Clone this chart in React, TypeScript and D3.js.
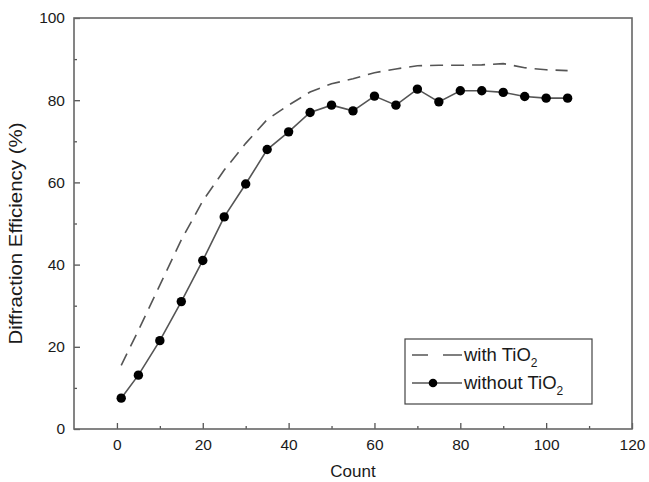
import React, { useEffect, useRef } from 'react';
import * as d3 from 'd3';

// counts shared by both series
const counts = [1, 5, 10, 15, 20, 25, 30, 35, 40, 45, 50, 55, 60, 65, 70, 75, 80, 85, 90, 95, 100, 105];
// with TiO2 (dashed line)
const withTiO2 = [15.5, 24, 35, 46, 55.5, 63, 69.5, 75.3, 78.8, 82, 84, 85.2, 86.7, 87.6, 88.4, 88.5, 88.5, 88.6, 88.9, 87.9, 87.4, 87.2];
// without TiO2 (solid line + dots)
const withoutTiO2 = [7.5, 13.1, 21.5, 31, 41, 51.6, 59.6, 68, 72.3, 77, 78.8, 77.4, 81, 78.8, 82.7, 79.6, 82.3, 82.3, 81.9, 80.9, 80.5, 80.5];

const xMajor = [0, 20, 40, 60, 80, 100, 120];
const xMinor = [10, 30, 50, 70, 90, 110];
const yMajor = [0, 20, 40, 60, 80, 100];
const yMinor = [10, 30, 50, 70, 90];

const App = () => {
  const svgRef = useRef<SVGSVGElement>(null);

  useEffect(() => {
    const width = 649;
    const height = 482;
    const left = 74, right = 632, top = 18, bottom = 429;
    const font = "'Liberation Sans', Arial, sans-serif";
    const ink = '#1a1a1a';

    const svg = d3.select(svgRef.current);
    svg.selectAll('*').remove();
    svg.attr('width', width).attr('height', height).style('font-family', font);

    const x = d3.scaleLinear().domain([-10, 120]).range([left, right]);
    const y = d3.scaleLinear().domain([0, 100]).range([bottom, top]);

    // --- axes (ticks pointing inward) ---
    const styleAxis = (g: any) => {
      g.select('.domain').remove();
      g.selectAll('line').attr('stroke', '#555').attr('stroke-width', 1.3);
      g.selectAll('text').attr('fill', ink).style('font-size', '15.5px');
    };

    svg.append('g')
      .attr('transform', `translate(0,${bottom})`)
      .call(d3.axisBottom(x).tickValues(xMajor).tickSize(-6).tickSizeOuter(0).tickPadding(10))
      .call(styleAxis);
    svg.append('g')
      .attr('transform', `translate(0,${bottom})`)
      .call(d3.axisBottom(x).tickValues(xMinor).tickSize(-3).tickSizeOuter(0).tickFormat(() => ''))
      .call(styleAxis);

    svg.append('g')
      .attr('transform', `translate(${left},0)`)
      .call(d3.axisLeft(y).tickValues(yMajor).tickSize(-6).tickSizeOuter(0).tickPadding(9))
      .call(styleAxis);
    svg.append('g')
      .attr('transform', `translate(${left},0)`)
      .call(d3.axisLeft(y).tickValues(yMinor).tickSize(-3).tickSizeOuter(0).tickFormat(() => ''))
      .call(styleAxis);

    // frame
    svg.append('rect')
      .attr('x', left).attr('y', top)
      .attr('width', right - left).attr('height', bottom - top)
      .attr('fill', 'none').attr('stroke', '#666').attr('stroke-width', 1.6);

    // --- series ---
    const line = d3.line<number>()
      .x((_, i) => x(counts[i]))
      .y(d => y(d));

    svg.append('path')
      .datum(withTiO2)
      .attr('d', line)
      .attr('fill', 'none')
      .attr('stroke', '#555')
      .attr('stroke-width', 1.6)
      .attr('stroke-dasharray', '13,8');

    svg.append('path')
      .datum(withoutTiO2)
      .attr('d', line)
      .attr('fill', 'none')
      .attr('stroke', '#555')
      .attr('stroke-width', 1.6);

    svg.append('g')
      .selectAll('circle')
      .data(withoutTiO2)
      .join('circle')
      .attr('cx', (_, i) => x(counts[i]))
      .attr('cy', d => y(d))
      .attr('r', 4.7)
      .attr('fill', '#000');

    // --- axis titles ---
    svg.append('text')
      .attr('x', (left + right) / 2)
      .attr('y', 477)
      .attr('text-anchor', 'middle')
      .attr('fill', ink)
      .style('font-size', '17px')
      .text('Count');

    svg.append('text')
      .attr('transform', `translate(22,${(top + bottom) / 2 + 10}) rotate(-90)`)
      .attr('text-anchor', 'middle')
      .attr('fill', ink)
      .attr('textLength', 222)
      .attr('lengthAdjust', 'spacingAndGlyphs')
      .style('font-size', '18px')
      .text('Diffraction Efficiency (%)');

    // --- legend ---
    const lg = svg.append('g').attr('transform', 'translate(405,339)');
    lg.append('rect')
      .attr('width', 187).attr('height', 65)
      .attr('fill', '#fff').attr('stroke', '#444').attr('stroke-width', 1.2);

    const rows = [
      { label: 'with TiO', dashed: true, dy: 16 },
      { label: 'without TiO', dashed: false, dy: 44 },
    ];
    rows.forEach(r => {
      const row = lg.append('g').attr('transform', `translate(0,${r.dy})`);
      row.append('line')
        .attr('x1', 7).attr('x2', 57).attr('y1', 0).attr('y2', 0)
        .attr('stroke', '#555').attr('stroke-width', 1.5)
        .attr('stroke-dasharray', r.dashed ? '16,15,19' : null);
      if (!r.dashed) {
        row.append('circle').attr('cx', 28).attr('cy', 0).attr('r', 4.3).attr('fill', '#000');
      }
      const t = row.append('text')
        .attr('x', 59).attr('y', 6)
        .attr('fill', ink)
        .style('font-size', '18.5px');
      t.append('tspan').text(r.label);
      t.append('tspan').attr('dy', 6).style('font-size', '12px').text('2');
    });
  }, []);

  return (
    <svg ref={svgRef} style={{ position: 'absolute', left: 0, top: 0, display: 'block', background: '#fff' }}></svg>
  );
};

export default App;
